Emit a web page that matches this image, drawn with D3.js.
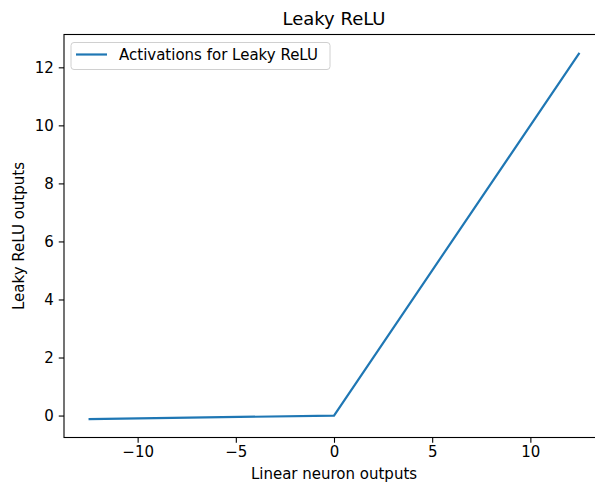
<!DOCTYPE html>
<html>
<head>
<meta charset="utf-8">
<script src="https://cdn.jsdelivr.net/npm/d3@7"></script>
<style>
	body { margin: 0; background: #fff; }
	text { font-family: "DejaVu Sans", sans-serif; fill: #000; }
</style>
</head>
<body>
<script>
// leaky relu, alpha = 0.01
var xs = [-12.5, 0, 12.5];
var ys = [-0.125, 0, 12.5];
var xTicks = [-10, -5, 0, 5, 10];
var yTicks = [0, 2, 4, 6, 8, 10, 12];
var seriesName = "Activations for Leaky ReLU";

var W = 595, H = 484;
var margin = {top: 34.5, left: 64, bottom: 437.5, right: 604};

var svg = d3.select("body").append("svg")
	.attr("width", W)
	.attr("height", H);

// matplotlib style autoscale, 5% padding
var xPad = (d3.max(xs) - d3.min(xs)) * 0.05;
var yPad = (d3.max(ys) - d3.min(ys)) * 0.05;
var x = d3.scaleLinear()
	.domain([d3.min(xs) - xPad, d3.max(xs) + xPad])
	.range([margin.left, margin.right]);
var y = d3.scaleLinear()
	.domain([d3.min(ys) - yPad, d3.max(ys) + yPad])
	.range([margin.bottom, margin.top]);

var xAxis = svg.append("g")
	.attr("transform", "translate(0," + margin.bottom + ")")
	.call(d3.axisBottom(x).tickValues(xTicks).tickSize(5.25).tickPadding(4)
		.tickFormat(function(d) { return d < 0 ? "\u2212" + Math.abs(d) : d; }));
var yAxis = svg.append("g")
	.attr("transform", "translate(" + margin.left + ",0)")
	.call(d3.axisLeft(y).tickValues(yTicks).tickSize(5.25).tickPadding(5));

[xAxis, yAxis].forEach(function(g) {
	g.select(".domain").remove();
	g.selectAll("line").attr("stroke", "#000").attr("stroke-width", 1.1);
	g.selectAll("text").style("font-size", "15px").attr("font-family", "DejaVu Sans");
});

// spines
svg.append("rect")
	.attr("x", margin.left)
	.attr("y", margin.top)
	.attr("width", margin.right - margin.left)
	.attr("height", margin.bottom - margin.top)
	.attr("fill", "none")
	.attr("stroke", "#000")
	.attr("stroke-width", 1.1);

var line = d3.line()
	.x(function(d, i) { return x(xs[i]); })
	.y(function(d, i) { return y(ys[i]); });

svg.append("path")
	.datum(xs)
	.attr("d", line)
	.attr("fill", "none")
	.attr("stroke", "#1f77b4")
	.attr("stroke-width", 2.2);

// title and labels
svg.append("text")
	.attr("x", (margin.left + margin.right) / 2)
	.attr("y", 25)
	.attr("text-anchor", "middle")
	.style("font-size", "18px")
	.text("Leaky ReLU");

svg.append("text")
	.attr("x", (margin.left + margin.right) / 2)
	.attr("y", 479)
	.attr("text-anchor", "middle")
	.style("font-size", "15px")
	.text("Linear neuron outputs");

svg.append("text")
	.attr("transform", "translate(24," + (margin.top + margin.bottom) / 2 + ") rotate(-90)")
	.attr("text-anchor", "middle")
	.style("font-size", "15px")
	.text("Leaky ReLU outputs");

// legend
var legend = svg.append("g").attr("transform", "translate(71,42.5)");
legend.append("rect")
	.attr("width", 259)
	.attr("height", 27)
	.attr("rx", 3)
	.attr("fill", "#fff")
	.attr("fill-opacity", 0.8)
	.attr("stroke", "#d0d0d0")
	.attr("stroke-width", 1);
legend.append("line")
	.attr("x1", 5).attr("x2", 36)
	.attr("y1", 12).attr("y2", 12)
	.attr("stroke", "#1f77b4")
	.attr("stroke-width", 2.2);
legend.append("text")
	.attr("x", 48)
	.attr("y", 17.5)
	.style("font-size", "15px")
	.text(seriesName);
</script>
</body>
</html>
